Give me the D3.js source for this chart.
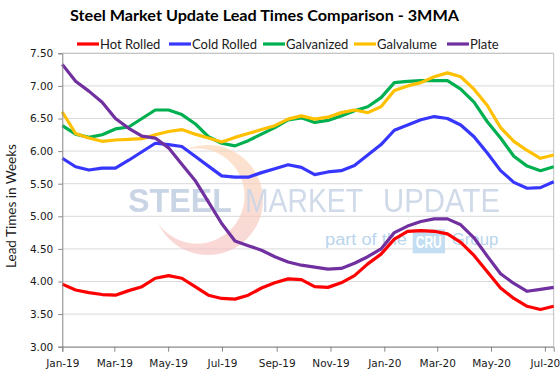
<!DOCTYPE html>
<html><head><meta charset="utf-8">
<script src="https://cdn.jsdelivr.net/npm/d3@7"></script>
<style>
html,body{margin:0;padding:0;background:#fff;}
svg{display:block;}
</style></head>
<body>
<svg id="chart" width="560" height="378"></svg>
<script>
const title = "Steel Market Update Lead Times Comparison - 3MMA";
const yAxisTitle = "Lead Times in Weeks";
const seriesNames = ["Hot Rolled","Cold Rolled","Galvanized","Galvalume","Plate"];
const seriesColors = ["#ff0000","#3636ff","#00b050","#ffc000","#7030a0"];
const tickLabels = ["Jan-19","Mar-19","May-19","Jul-19","Sep-19","Nov-19","Jan-20","Mar-20","May-20","Jul-20"];
const yTicks = [3.0,3.5,4.0,4.5,5.0,5.5,6.0,6.5,7.0,7.5];
const startDate = new Date(2019,0,1);
const endDate = new Date(2020,6,11);

const hotRolled = [3.96,3.87,3.83,3.80,3.79,3.86,3.92,4.05,4.09,4.05,3.92,3.79,3.74,3.73,3.79,3.90,3.98,4.04,4.03,3.92,3.91,3.98,4.09,4.27,4.42,4.65,4.77,4.78,4.77,4.73,4.60,4.40,4.15,3.90,3.74,3.62,3.57,3.62];
const coldRolled = [5.89,5.76,5.71,5.74,5.74,5.86,5.99,6.12,6.10,6.07,5.92,5.77,5.62,5.60,5.60,5.67,5.73,5.79,5.75,5.64,5.68,5.70,5.78,5.94,6.10,6.32,6.40,6.48,6.53,6.50,6.40,6.22,5.97,5.70,5.52,5.43,5.44,5.53];
const galvanized = [6.39,6.26,6.21,6.25,6.34,6.37,6.50,6.63,6.63,6.56,6.42,6.22,6.12,6.08,6.16,6.26,6.36,6.48,6.51,6.44,6.47,6.54,6.62,6.68,6.82,7.05,7.07,7.08,7.08,7.08,6.95,6.75,6.45,6.20,5.92,5.77,5.70,5.76];
const galvalume = [6.60,6.27,6.20,6.15,6.17,6.18,6.19,6.25,6.30,6.33,6.26,6.20,6.14,6.21,6.27,6.33,6.39,6.49,6.54,6.49,6.52,6.59,6.63,6.59,6.68,6.93,7.00,7.05,7.14,7.20,7.14,6.95,6.70,6.36,6.15,6.01,5.89,5.94];
const plate = [7.33,7.07,6.92,6.75,6.50,6.35,6.23,6.20,6.05,5.80,5.55,5.22,4.89,4.62,4.55,4.48,4.38,4.30,4.25,4.22,4.19,4.20,4.28,4.38,4.50,4.75,4.85,4.92,4.96,4.96,4.87,4.67,4.39,4.12,3.97,3.85,3.88,3.91];

const allSeries = [hotRolled, coldRolled, galvanized, galvalume, plate];

const svg = d3.select("#chart");
const pLeft = 62.3, pRight = 553.7, pTop = 53.3, pBottom = 346.7;

const nPts = hotRolled.length;
const xIdx = d3.scaleLinear().domain([0, nPts-1]).range([pLeft, pRight]);
const xTime = d3.scaleTime().domain([startDate, endDate]).range([pLeft, pRight]);
const y = d3.scaleLinear().domain([3, 7.5]).range([pBottom, pTop]);

const tickDates = tickLabels.map((_, i) => d3.timeMonth.offset(startDate, i*2));

// gridlines
svg.append("g").selectAll("line").data(yTicks).join("line")
  .attr("x1", pLeft).attr("x2", pRight)
  .attr("y1", d => y(d)).attr("y2", d => y(d))
  .attr("stroke", "#d9d9d9").attr("stroke-width", 1);

// watermark
const wm = svg.append("g");
const defs = svg.append("defs");
const grad = defs.append("linearGradient").attr("id","sw").attr("x1","0").attr("y1","0").attr("x2","0").attr("y2","1");
grad.append("stop").attr("offset","0%").attr("stop-color","#fcd6b4");
grad.append("stop").attr("offset","100%").attr("stop-color","#f6c2c2");
const mask = defs.append("mask").attr("id","crescentMask");
mask.append("rect").attr("x",0).attr("y",0).attr("width",560).attr("height",378).attr("fill","#fff");
mask.append("circle").attr("cx",197).attr("cy",196).attr("r",47.5).attr("fill","#000");
wm.append("circle").attr("cx",208).attr("cy",200).attr("r",55)
  .attr("mask","url(#crescentMask)")
  .attr("fill", "url(#sw)").attr("opacity", 0.65);
wm.append("text").attr("x",128).attr("y",212).attr("textLength",104).attr("lengthAdjust","spacingAndGlyphs")
  .attr("font-family","Liberation Sans, Arial, sans-serif").attr("font-weight","bold").attr("font-size",33)
  .attr("fill","#c4d0e3").attr("opacity",0.9).text("STEEL");
wm.append("text").attr("x",245).attr("y",212).attr("textLength",118).attr("lengthAdjust","spacingAndGlyphs")
  .attr("font-family","Liberation Sans, Arial, sans-serif").attr("font-size",33)
  .attr("fill","#cbd6e7").attr("opacity",0.9).text("MARKET");
wm.append("text").attr("x",383).attr("y",212).attr("textLength",117).attr("lengthAdjust","spacingAndGlyphs")
  .attr("font-family","Liberation Sans, Arial, sans-serif").attr("font-size",33)
  .attr("fill","#cbd6e7").attr("opacity",0.9).text("UPDATE");
wm.append("text").attr("x",325).attr("y",245).attr("textLength",82).attr("lengthAdjust","spacingAndGlyphs")
  .attr("font-family","Liberation Sans, Arial, sans-serif").attr("font-size",16)
  .attr("fill","#b9d5ec").text("part of the");
wm.append("rect").attr("x",412.7).attr("y",229.3).attr("width",32.3).attr("height",24).attr("fill","#c3def2");
wm.append("text").attr("x",428.8).attr("y",248).attr("text-anchor","middle").attr("textLength",26).attr("lengthAdjust","spacingAndGlyphs")
  .attr("font-family","Liberation Sans Narrow, Liberation Sans, sans-serif").attr("font-weight","bold").attr("font-size",17)
  .attr("fill","#ffffff").text("CRU");
wm.append("text").attr("x",451.7).attr("y",245).attr("textLength",46.6).attr("lengthAdjust","spacingAndGlyphs")
  .attr("font-family","Liberation Sans, Arial, sans-serif").attr("font-size",16)
  .attr("fill","#b9d5ec").text("Group");

// frame top & right
svg.append("line").attr("x1", pLeft).attr("x2", pRight).attr("y1", pTop).attr("y2", pTop).attr("stroke","#bfbfbf");
svg.append("line").attr("x1", pRight).attr("x2", pRight).attr("y1", pTop).attr("y2", pBottom).attr("stroke","#bfbfbf");

// lines
const line = d3.line().x((d,i) => xIdx(i)).y(d => y(d));
svg.append("g").selectAll("path").data(allSeries).join("path")
  .attr("d", d => line(d))
  .attr("fill","none")
  .attr("stroke", (d,i) => seriesColors[i])
  .attr("stroke-width", 3.2)
  .attr("stroke-linejoin","round")
  .attr("stroke-linecap","butt");

// y axis
const yAxis = d3.axisLeft(y).tickValues(yTicks).tickFormat(d3.format(".2f")).tickSize(4).tickPadding(5);
const gy = svg.append("g").attr("transform", `translate(${pLeft},0)`).call(yAxis);
gy.select(".domain").attr("stroke","#868686");
gy.selectAll(".tick line").attr("stroke","#868686");
gy.selectAll("text").attr("font-family","DejaVu Sans, Verdana, sans-serif").attr("font-size",10.5).attr("fill","#1a1a1a");

// x axis
const xAxis = d3.axisBottom(xTime).tickValues(tickDates).tickFormat((d,i) => tickLabels[i]).tickSize(5).tickPadding(8);
const gx = svg.append("g").attr("transform", `translate(0,${pBottom})`).call(xAxis);
gx.select(".domain").attr("stroke","#868686");
gx.selectAll(".tick line").attr("stroke","#868686");
gx.selectAll("text").attr("font-family","DejaVu Sans, Verdana, sans-serif").attr("font-size",10.5).attr("fill","#1a1a1a");

// title
svg.append("text").attr("x", 264.5).attr("y", 21).attr("text-anchor","middle")
  .attr("font-family","Lato, sans-serif").attr("font-weight","bold").attr("font-size",15.5)
  .attr("textLength", 389).attr("lengthAdjust","spacingAndGlyphs")
  .text(title);

// y axis title
svg.append("text").attr("transform","translate(16,206) rotate(-90)").attr("text-anchor","middle")
  .attr("font-family","Lato, sans-serif").attr("font-size",13.5).attr("fill","#1a1a1a")
  .text(yAxisTitle);

// legend
const legendX = [77, 169, 263, 354, 447];
const lg = svg.append("g").selectAll("g").data(seriesNames).join("g")
  .attr("transform", (d,i) => `translate(${legendX[i]},44)`);
lg.append("line").attr("x1",0).attr("x2",22).attr("y1",0).attr("y2",0)
  .attr("stroke", (d,i) => seriesColors[i]).attr("stroke-width",3.2);
lg.append("text").attr("x",23).attr("y",5).attr("font-family","Lato, sans-serif").attr("font-size",13).attr("fill","#1a1a1a")
  .text(d => d);
</script>
</body></html>
